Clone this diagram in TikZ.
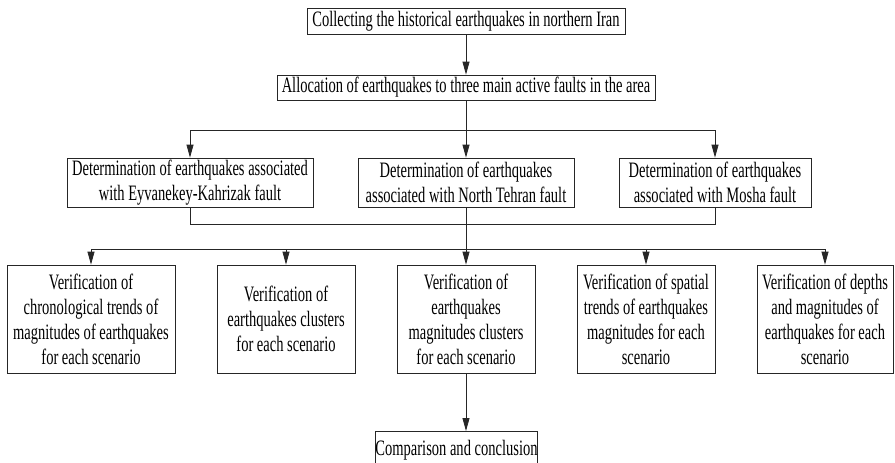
\documentclass[tikz,border=0pt]{standalone}
\usepackage{fontspec}
\setmainfont[FakeStretch=0.66]{Liberation Serif}
\usetikzlibrary{arrows.meta}
\begin{document}
\begin{tikzpicture}[x=1pt,y=-1pt,
  box/.style={draw=black!85,line width=0.8pt,inner sep=0pt,align=center,
    font=\fontsize{22}{25}\selectfont},
  conn/.style={draw=black!85,line width=0.8pt},
  arr/.style={conn,-{Triangle[width=7pt,length=13pt]}}]
\useasboundingbox (0,0) rectangle (895,463);
% row 1 and 2
\node[box,minimum width=318pt,minimum height=26pt] (b1) at (466,21) {Collecting the historical earthquakes in northern Iran};
\node[box,minimum width=378pt,minimum height=25pt] (b2) at (466,87.5) {Allocation of earthquakes to three main active faults in the area};
% faults
\node[box,minimum width=246pt,minimum height=49pt] (fa) at (190,182.5) {Determination of earthquakes associated\\with Eyvanekey-Kahrizak fault};
\node[box,minimum width=216pt,minimum height=49pt] (fb) at (466,182.5) {Determination of earthquakes\\associated with North Tehran fault};
\node[box,minimum width=192pt,minimum height=49pt] (fc) at (715,182.5) {Determination of earthquakes\\associated with Mosha fault};
% verification boxes
\node[box,minimum width=168pt,minimum height=108pt] (v1) at (91,319) {Verification of\\chronological trends of\\magnitudes of earthquakes\\for each scenario};
\node[box,minimum width=138pt,minimum height=108pt] (v2) at (286,319) {Verification of\\earthquakes clusters\\for each scenario};
\node[box,minimum width=138pt,minimum height=108pt] (v3) at (466,319) {Verification of\\earthquakes\\magnitudes clusters\\for each scenario};
\node[box,minimum width=138pt,minimum height=108pt] (v4) at (646,319) {Verification of spatial\\trends of earthquakes\\magnitudes for each\\scenario};
\node[box,minimum width=136pt,minimum height=108pt] (v5) at (825,319) {Verification of depths\\and magnitudes of\\earthquakes for each\\scenario};
% comparison
\node[box,minimum width=159pt,minimum height=37pt,anchor=north] (cc) at (456.5,431) {\raisebox{5pt}{Comparison and conclusion}};
% junction coordinates
\coordinate (j1) at (466,130);
\coordinate (j2) at (466,224);
\coordinate (j3) at (466,249);
% connectors
\draw[arr] (b1) -- (b2);
\draw[arr] (b2) -- (fb);
\draw[arr] (j1) -| (fa);
\draw[arr] (j1) -| (fc);
\draw[conn] (fa) |- (j2);
\draw[conn] (fc) |- (j2);
\draw[arr] (fb) -- (v3);
\draw[arr] (j3) -| (v1);
\draw[arr] (j3) -| (v2);
\draw[arr] (j3) -| (v4);
\draw[arr] (j3) -| (v5);
\draw[arr] (v3) -- (v3 |- cc.north);
\end{tikzpicture}
\end{document}
